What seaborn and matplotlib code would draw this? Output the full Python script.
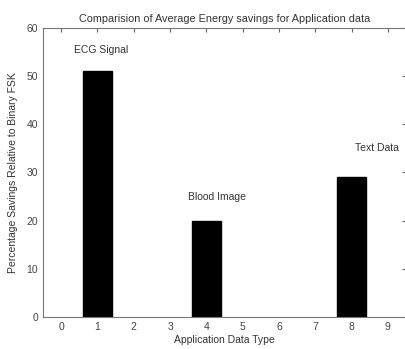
import matplotlib
matplotlib.use('Agg')
import matplotlib.pyplot as plt
import seaborn as sns
import pandas as pd

data_type = [1, 4, 8]
savings = [51, 20, 29]
labels = ['ECG Signal', 'Blood Image', 'Text Data']
label_y = [55.4, 24.9, 35]
label_x = [1.1, 4.3, 8.7]

sns.set_style('white')
plt.rcParams['font.family'] = ['Liberation Sans', 'DejaVu Sans']

df = pd.DataFrame({'type': data_type, 'savings': savings})

fig = plt.figure(figsize=(4.06, 3.49), dpi=100)
ax = fig.add_axes([0.106, 0.092, 0.894, 0.828])
# native_scale widths are relative to the smallest gap (3), so 0.8 / 3
sns.barplot(data=df, x='type', y='savings', native_scale=True, color='black',
            width=0.8 / 3, saturation=1, ax=ax, edgecolor='black')

for x, y, t in zip(label_x, label_y, labels):
    ax.text(x, y, t, ha='center', va='center', fontsize=7.5, color='#333333')

ax.set_xlim(-0.5, 9.5)
ax.set_ylim(0, 60)
ax.set_xticks(range(10))
ax.set_yticks(range(0, 61, 10))
ax.tick_params(direction='in', length=3, labelsize=7.5, colors='#666666',
               labelcolor='#444444', top=True, right=True)
for s in ax.spines.values():
    s.set_color('#777777')
    s.set_linewidth(0.8)
ax.set_xlabel('Application Data Type', fontsize=7.5, color='#333333', labelpad=2)
ax.set_ylabel('Percentage Savings Relative to Binary FSK', fontsize=7.5, color='#333333', labelpad=6)
ax.set_title('Comparision of Average Energy savings for Application data', fontsize=7.8, color='#333333', pad=4)

fig.savefig('out.png', dpi=100)
